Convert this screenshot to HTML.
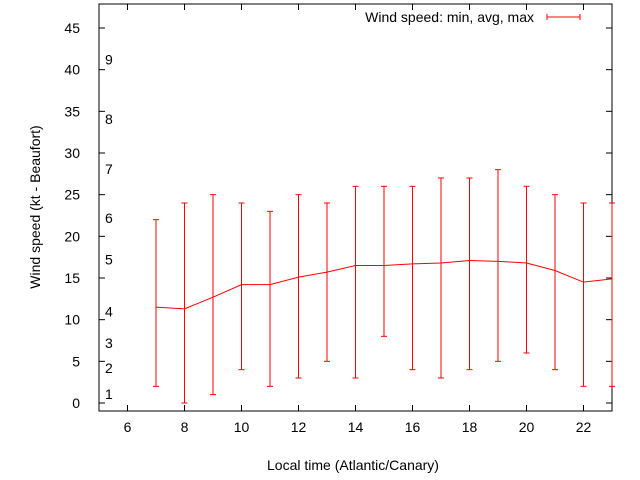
<!DOCTYPE html>
<html><head><meta charset="utf-8"><style>
html,body{margin:0;padding:0;background:#fff;}
svg{display:block;font-family:"Liberation Sans",sans-serif;}
</style></head><body>
<svg id="chart" width="640" height="480">
<rect x="99" y="4" width="513" height="407" fill="none" stroke="#000"/>
<g id="axes"></g>
<g id="beaufort"></g>
<g id="series"></g>
<text x="353" y="470" text-anchor="middle" font-size="14">Local time (Atlantic/Canary)</text>
<text transform="translate(40,207) rotate(-90)" text-anchor="middle" font-size="14">Wind speed (kt - Beaufort)</text>
<g>
<text x="534" y="22" text-anchor="end" font-size="14">Wind speed: min, avg, max</text>
<line x1="547" y1="17" x2="580" y2="17" stroke="red"/>
<line x1="547" y1="14" x2="547" y2="20" stroke="red"/>
<line x1="580" y1="14" x2="580" y2="20" stroke="red"/>
</g>
</svg>
<script>
const hours=[7,8,9,10,11,12,13,14,15,16,17,18,19,20,21,22,23];
const avgSpeed=[11.5,11.3,12.7,14.2,14.2,15.1,15.7,16.5,16.5,16.7,16.8,17.1,17.0,16.8,15.9,14.5,14.9];
const minSpeed=[2,0,1,4,2,3,5,3,8,4,3,4,5,6,4,2,2];
const maxSpeed=[22,24,25,24,23,25,24,26,26,26,27,27,28,26,25,24,24];
const xTicks=[6,8,10,12,14,16,18,20,22];
const yTicks=[0,5,10,15,20,25,30,35,40,45];
const beaufortLabels=["1","2","3","4","5","6","7","8","9"];
const beaufortY=[1.1,4.2,7.2,11,17.2,22.2,28.1,34.1,41.2];
const NS="http://www.w3.org/2000/svg";
const X=v=>99+(v-5)*(513/18);
const Y=v=>403-v*(375/45);
function mk(t,a,p){const e=document.createElementNS(NS,t);for(const k in a)e.setAttribute(k,a[k]);p.appendChild(e);return e;}
const ax=document.getElementById('axes');
xTicks.forEach(t=>{
 const l=mk('line',{x1:X(t),x2:X(t),y1:411,y2:405,stroke:'#000'},ax);
 
 
 mk('line',{x1:X(t),x2:X(t),y1:4,y2:10,stroke:'#000'},ax);
 const tx=mk('text',{x:X(t),y:432,'text-anchor':'middle','font-size':14},ax);tx.textContent=t;
 
 
});
yTicks.forEach(t=>{
 mk('line',{x1:99,x2:105,y1:Y(t),y2:Y(t),stroke:'#000'},ax);
 mk('line',{x1:612,x2:606,y1:Y(t),y2:Y(t),stroke:'#000'},ax);
 const tx=mk('text',{x:80,y:Y(t)+5,'text-anchor':'end','font-size':14},ax);tx.textContent=t;
 
 
});
const bf=document.getElementById('beaufort');
beaufortLabels.forEach((s,i)=>{
 const tx=mk('text',{x:105,y:Y(beaufortY[i])+5,'font-size':14},bf);tx.textContent=s;
 
 
});
const sg=document.getElementById('series');
const pts=hours.map((h,i)=>X(h)+','+Y(avgSpeed[i])).join(' ');
const pl=mk('polyline',{points:pts,fill:'none',stroke:'red'},sg);


hours.forEach((h,i)=>{
 const g=mk('g',{},sg);
 
 
 const x=X(h);
 mk('line',{x1:x,x2:x,y1:Y(minSpeed[i]),y2:Y(maxSpeed[i]),stroke:'red'},g);
 mk('line',{x1:x-3,x2:x+3,y1:Y(minSpeed[i]),y2:Y(minSpeed[i]),stroke:'red'},g);
 mk('line',{x1:x-3,x2:x+3,y1:Y(maxSpeed[i]),y2:Y(maxSpeed[i]),stroke:'red'},g);
});
</script>
</body></html>
